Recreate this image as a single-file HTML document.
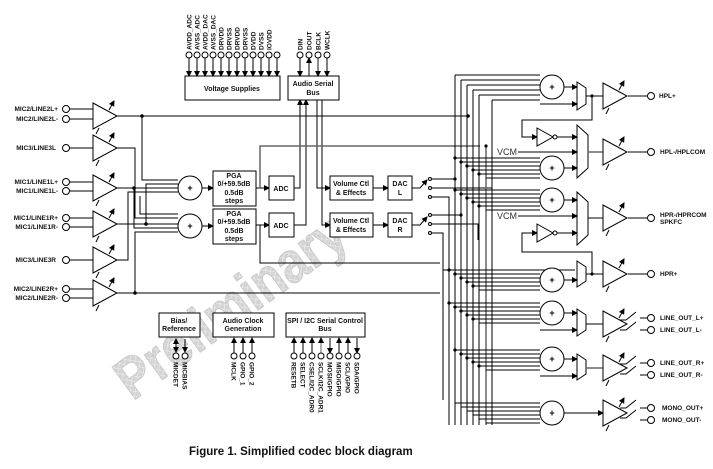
<!DOCTYPE html>
<html><head><meta charset="utf-8"><style>
html,body{margin:0;padding:0;background:#fff;}
svg{display:block;font-family:"Liberation Sans",sans-serif;}
.t{font-size:6.5px;font-weight:bold;fill:#111;}
.b{font-size:7px;font-weight:bold;fill:#111;}
</style></head><body>
<svg width="713" height="469" viewBox="0 0 713 469" xmlns="http://www.w3.org/2000/svg">
<defs>
<marker id="a" markerWidth="6" markerHeight="6" refX="5" refY="3" orient="auto" markerUnits="userSpaceOnUse"><path d="M0,0 L6,3 L0,6 z" fill="#000"/></marker>
<pattern id="h" width="5" height="5" patternUnits="userSpaceOnUse" patternTransform="rotate(45)"><rect width="5" height="5" fill="#d4d4d4"/><line x1="0" y1="0" x2="0" y2="5" stroke="#eee" stroke-width="1.2"/><line x1="0" y1="0" x2="5" y2="0" stroke="#eee" stroke-width="1.2"/></pattern>
<g id="amp"><polygon points="0,-13 24,0 0,13" fill="#fff" stroke="#000" stroke-width="1"/><line x1="3" y1="18" x2="6" y2="12" stroke="#000"/><line x1="16" y1="-6" x2="21" y2="-15" stroke="#000" marker-end="url(#a)"/></g>
<g id="sum"><circle r="12" fill="#fff" stroke="#000"/><text y="3" text-anchor="middle" font-size="9" font-weight="bold">+</text></g>
<g id="inv"><polygon points="0,-9 16,0 0,9" fill="#fff" stroke="#000"/><circle cx="18" r="2" fill="#fff" stroke="#000"/></g>
</defs>

<!-- watermark -->
<text x="0" y="0" transform="translate(242,322) rotate(-36)" text-anchor="middle" font-size="58" font-weight="bold" fill="url(#h)" stroke="#c4c4c4" stroke-width="0.8" textLength="270" lengthAdjust="spacingAndGlyphs">Preliminary</text>

<g stroke="#000" stroke-width="1" fill="none">
<line x1="70" y1="109" x2="93" y2="109"/><line x1="70" y1="119" x2="93" y2="119"/>
<line x1="70" y1="148" x2="93" y2="148"/>
<line x1="70" y1="182" x2="93" y2="182"/><line x1="70" y1="191" x2="93" y2="191"/>
<line x1="70" y1="218" x2="93" y2="218"/><line x1="70" y1="227" x2="93" y2="227"/>
<line x1="70" y1="260" x2="93" y2="260"/>
<line x1="70" y1="289" x2="93" y2="289"/><line x1="70" y1="298" x2="93" y2="298"/>
</g>
<g fill="#fff" stroke="#000">
<circle cx="66" cy="109" r="3.5"/><circle cx="66" cy="119" r="3.5"/><circle cx="66" cy="148" r="3.5"/>
<circle cx="66" cy="182" r="3.5"/><circle cx="66" cy="191" r="3.5"/><circle cx="66" cy="218" r="3.5"/>
<circle cx="66" cy="227" r="3.5"/><circle cx="66" cy="260" r="3.5"/><circle cx="66" cy="289" r="3.5"/><circle cx="66" cy="298" r="3.5"/>
</g>
<g class="t" text-anchor="end">
<text x="58" y="111">MIC2/LINE2L+</text><text x="58" y="121">MIC2/LINE2L-</text>
<text x="56" y="150">MIC3/LINE3L</text>
<text x="58" y="184">MIC1/LINE1L+</text><text x="58" y="193">MIC1/LINE1L-</text>
<text x="58" y="220">MIC1/LINE1R+</text><text x="58" y="229">MIC1/LINE1R-</text>
<text x="56" y="262">MIC3/LINE3R</text>
<text x="58" y="291">MIC2/LINE2R+</text><text x="58" y="300">MIC2/LINE2R-</text>
</g>

<g stroke="#000" fill="none">
<polyline points="117,116 468,116"/>
<polyline points="142,116 142,180 178,180"/>
<polyline points="117,148 135,148 135,218 178,218"/>
<polyline points="117,188 178,188"/>
<polyline points="134,188 134,228 178,228"/>
<polyline points="117,224 178,224"/>
<polyline points="146,224 146,184 178,184"/>
<polyline points="117,260 128,260 128,192 178,192"/>
<polyline points="117,293 440,293"/>
<polyline points="135,293 135,232 178,232"/>
<polyline points="140,196 140,214 178,214"/>
</g>
<g fill="#000">
<circle cx="142" cy="116" r="1.8"/><circle cx="134" cy="188" r="1.8"/><circle cx="146" cy="224" r="1.8"/><circle cx="135" cy="293" r="1.8"/><circle cx="468" cy="116" r="1.8"/>
</g>
<use href="#amp" x="93" y="116"/><use href="#amp" x="93" y="148"/><use href="#amp" x="93" y="188"/>
<use href="#amp" x="93" y="224"/><use href="#amp" x="93" y="260"/><use href="#amp" x="93" y="293"/>

<use href="#sum" x="190" y="188"/><use href="#sum" x="190" y="226"/>

<g stroke="#000" fill="none">
<line x1="202" y1="188" x2="213" y2="188" marker-end="url(#a)"/>
<line x1="202" y1="226" x2="213" y2="226" marker-end="url(#a)"/>
<line x1="256" y1="188" x2="269" y2="188" marker-end="url(#a)"/>
<line x1="256" y1="225" x2="269" y2="225" marker-end="url(#a)"/>
<polyline points="294,188 300,188 300,100" marker-end="url(#a)"/>
<polyline points="294,225 306,225 306,100" marker-end="url(#a)"/>
<polyline points="317,100 317,188 330,188" marker-end="url(#a)"/>
<polyline points="322,100 322,225 330,225" marker-end="url(#a)"/>
<line x1="373" y1="188" x2="388" y2="188" marker-end="url(#a)"/>
<line x1="373" y1="225" x2="388" y2="225" marker-end="url(#a)"/>
<polyline points="260,188 260,146 480,146" stroke="#666" stroke-width="1.5"/>
<polyline points="260,225 260,263 440,263"/>
<polyline points="412,188 420,188 427,180" marker-end="url(#a)"/>
<polyline points="412,225 420,225 427,217" marker-end="url(#a)"/>
</g>
<g fill="#fff" stroke="#000" stroke-width="1">
<rect x="213" y="171" width="43" height="35"/><rect x="213" y="209" width="43" height="35"/>
<rect x="269" y="176" width="25" height="24"/><rect x="269" y="213" width="25" height="24"/>
<rect x="330" y="176" width="43" height="24"/><rect x="330" y="213" width="43" height="24"/>
<rect x="388" y="176" width="24" height="24"/><rect x="388" y="213" width="24" height="24"/>
<rect x="185" y="76" width="95" height="24"/><rect x="288" y="76" width="51" height="24"/>
<rect x="159" y="313" width="41" height="24"/><rect x="213" y="313" width="61" height="24"/><rect x="286" y="313" width="79" height="24"/>
</g>
<g class="b" text-anchor="middle">
<text x="234" y="178">PGA</text><text x="234" y="186">0/+59.5dB</text><text x="234" y="195">0.5dB</text><text x="234" y="203">steps</text>
<text x="234" y="216">PGA</text><text x="234" y="224">0/+59.5dB</text><text x="234" y="233">0.5dB</text><text x="234" y="241">steps</text>
<text x="281" y="191">ADC</text><text x="281" y="228">ADC</text>
<text x="351" y="186">Volume Ctl</text><text x="351" y="195">&amp; Effects</text>
<text x="351" y="223">Volume Ctl</text><text x="351" y="232">&amp; Effects</text>
<text x="400" y="186">DAC</text><text x="400" y="195">L</text>
<text x="400" y="223">DAC</text><text x="400" y="232">R</text>
<text x="232" y="91">Voltage Supplies</text>
<text x="313" y="86">Audio Serial</text><text x="313" y="95">Bus</text>
<text x="179" y="323">Bias/</text><text x="179" y="331">Reference</text>
<text x="243" y="323">Audio Clock</text><text x="243" y="331">Generation</text>
<text x="325" y="323">SPI / I2C Serial Control</text><text x="325" y="331">Bus</text>
</g>

<g stroke="#000" fill="none">
<line x1="189" y1="58" x2="189" y2="76" marker-end="url(#a)"/><line x1="197" y1="58" x2="197" y2="76" marker-end="url(#a)"/>
<line x1="205" y1="58" x2="205" y2="76" marker-end="url(#a)"/><line x1="213" y1="58" x2="213" y2="76" marker-end="url(#a)"/>
<line x1="221" y1="58" x2="221" y2="76" marker-end="url(#a)"/><line x1="229" y1="58" x2="229" y2="76" marker-end="url(#a)"/>
<line x1="237" y1="58" x2="237" y2="76" marker-end="url(#a)"/><line x1="245" y1="58" x2="245" y2="76" marker-end="url(#a)"/>
<line x1="253" y1="58" x2="253" y2="76" marker-end="url(#a)"/><line x1="261" y1="58" x2="261" y2="76" marker-end="url(#a)"/>
<line x1="269" y1="58" x2="269" y2="76" marker-end="url(#a)"/><line x1="277" y1="58" x2="277" y2="76" marker-end="url(#a)"/>
<line x1="300" y1="58" x2="300" y2="76" marker-end="url(#a)"/><line x1="309" y1="76" x2="309" y2="58" marker-end="url(#a)"/>
<line x1="318" y1="58" x2="318" y2="76" marker-end="url(#a)" stroke="#666" stroke-width="1.5"/><line x1="327" y1="58" x2="327" y2="76" marker-end="url(#a)"/>
</g>
<g fill="#fff" stroke="#000">
<circle cx="189" cy="55" r="3"/><circle cx="197" cy="55" r="3"/><circle cx="205" cy="55" r="3"/><circle cx="213" cy="55" r="3"/>
<circle cx="221" cy="55" r="3"/><circle cx="229" cy="55" r="3"/><circle cx="237" cy="55" r="3"/><circle cx="245" cy="55" r="3"/>
<circle cx="253" cy="55" r="3"/><circle cx="261" cy="55" r="3"/><circle cx="269" cy="55" r="3"/><circle cx="277" cy="55" r="3"/>
<circle cx="300" cy="55" r="3"/><circle cx="309" cy="55" r="3"/><circle cx="318" cy="55" r="3"/><circle cx="327" cy="55" r="3"/>
</g>
<g class="t">
<text transform="translate(191.5,50) rotate(-90)">AVDD_ADC</text><text transform="translate(199.5,50) rotate(-90)">AVSS_ADC</text>
<text transform="translate(207.5,50) rotate(-90)">AVDD_DAC</text><text transform="translate(215.5,50) rotate(-90)">AVSS_DAC</text>
<text transform="translate(223.5,50) rotate(-90)">DRVDD</text><text transform="translate(231.5,50) rotate(-90)">DRVSS</text>
<text transform="translate(239.5,50) rotate(-90)">DRVDD</text><text transform="translate(247.5,50) rotate(-90)">DRVSS</text>
<text transform="translate(255.5,50) rotate(-90)">DVDD</text><text transform="translate(263.5,50) rotate(-90)">DVSS</text>
<text transform="translate(271.5,50) rotate(-90)">IOVDD</text>
<text transform="translate(302.5,50) rotate(-90)">DIN</text><text transform="translate(311.5,50) rotate(-90)">DOUT</text>
<text transform="translate(320.5,50) rotate(-90)">BCLK</text><text transform="translate(329.5,50) rotate(-90)">WCLK</text>
</g>

<g stroke="#000" fill="none">
<line x1="176" y1="346" x2="176" y2="339" marker-end="url(#a)"/><line x1="176" y1="339" x2="176" y2="352" marker-end="url(#a)"/>
<line x1="185" y1="339" x2="185" y2="352" marker-end="url(#a)"/>
<line x1="234" y1="353" x2="234" y2="338" marker-end="url(#a)"/><line x1="243" y1="353" x2="243" y2="338" marker-end="url(#a)"/><line x1="252" y1="353" x2="252" y2="338" marker-end="url(#a)"/>
<line x1="294" y1="353" x2="294" y2="338" marker-end="url(#a)"/><line x1="303" y1="353" x2="303" y2="338" marker-end="url(#a)"/>
<line x1="312" y1="353" x2="312" y2="338" marker-end="url(#a)"/><line x1="321" y1="353" x2="321" y2="338" marker-end="url(#a)" stroke="#666"/>
<line x1="330" y1="338" x2="330" y2="353" marker-end="url(#a)"/><line x1="339" y1="353" x2="339" y2="338" marker-end="url(#a)"/>
<line x1="348" y1="353" x2="348" y2="338" marker-end="url(#a)"/><line x1="357" y1="338" x2="357" y2="353" marker-end="url(#a)"/>
</g>
<g fill="#fff" stroke="#000">
<circle cx="176" cy="356" r="3"/><circle cx="185" cy="356" r="3"/>
<circle cx="234" cy="356" r="3"/><circle cx="243" cy="356" r="3"/><circle cx="252" cy="356" r="3"/>
<circle cx="294" cy="356" r="3"/><circle cx="303" cy="356" r="3"/><circle cx="312" cy="356" r="3"/><circle cx="321" cy="356" r="3"/>
<circle cx="330" cy="356" r="3"/><circle cx="339" cy="356" r="3"/><circle cx="348" cy="356" r="3"/><circle cx="357" cy="356" r="3"/>
</g>
<g class="t">
<text transform="translate(173.5,362) rotate(90)">MICDET</text><text transform="translate(182.5,362) rotate(90)">MICBIAS</text>
<text transform="translate(231.5,362) rotate(90)">MCLK</text><text transform="translate(240.5,362) rotate(90)">GPIO_1</text><text transform="translate(249.5,362) rotate(90)">GPIO_2</text>
<text transform="translate(291.5,362) rotate(90)">RESETB</text><text transform="translate(300.5,362) rotate(90)">SELECT</text>
<text transform="translate(309.5,362) rotate(90)">CSEL/I2C_ADR0</text><text transform="translate(318.5,362) rotate(90)">SCLK/I2C_ADR1</text>
<text transform="translate(327.5,362) rotate(90)">MOSI/GPIO</text><text transform="translate(336.5,362) rotate(90)">MISO/GPIO</text>
<text transform="translate(345.5,362) rotate(90)">SCL/GPIO</text><text transform="translate(354.5,362) rotate(90)">SDA/GPIO</text>
</g>

<g stroke="#000" fill="none">
<line x1="432" y1="179" x2="455" y2="179"/><line x1="432" y1="188" x2="492" y2="188"/><polyline points="432,197 449,197 449,425"/>
<line x1="432" y1="215" x2="461" y2="215"/><polyline points="432,224 478,224 478,240"/><polyline points="432,233 443,233 443,400"/>
</g>
<g fill="#fff" stroke="#000"><circle cx="430" cy="179" r="1.5"/><circle cx="430" cy="188" r="1.5"/><circle cx="430" cy="197" r="1.5"/>
<circle cx="430" cy="215" r="1.5"/><circle cx="430" cy="224" r="1.5"/><circle cx="430" cy="233" r="1.5"/></g>

<g stroke="#000" fill="none">
<line x1="455" y1="75" x2="455" y2="425"/><line x1="461" y1="80" x2="461" y2="425"/>
<line x1="467" y1="85" x2="467" y2="425"/><line x1="473" y1="90" x2="473" y2="425"/>
<line x1="479" y1="95" x2="479" y2="425"/><line x1="486" y1="146" x2="486" y2="425" stroke="#666" stroke-width="1.5"/>
<line x1="492" y1="100" x2="492" y2="425"/>
<polyline points="443,400 443,270 575,270"/>
</g>
<g stroke="#000" fill="none">
<polyline points="455,75 540,75"/><polyline points="461,80 540,80"/><polyline points="467,85 540,85"/><polyline points="473,90 540,90"/><polyline points="479,95 540,95"/><polyline points="492,100 540,100"/>
<line x1="455" y1="158" x2="540" y2="158"/><line x1="461" y1="162" x2="540" y2="162"/><line x1="467" y1="166" x2="540" y2="166"/><line x1="473" y1="170" x2="540" y2="170"/><line x1="479" y1="174" x2="540" y2="174"/><line x1="486" y1="178" x2="540" y2="178"/>
<line x1="455" y1="190" x2="540" y2="190"/><line x1="461" y1="194" x2="540" y2="194"/><line x1="467" y1="198" x2="540" y2="198"/><line x1="473" y1="202" x2="540" y2="202"/><line x1="479" y1="206" x2="540" y2="206"/><line x1="486" y1="210" x2="540" y2="210"/>
<line x1="449" y1="270" x2="540" y2="270"/><line x1="455" y1="274" x2="540" y2="274"/><line x1="461" y1="278" x2="540" y2="278"/><line x1="467" y1="282" x2="540" y2="282"/><line x1="473" y1="286" x2="540" y2="286"/><line x1="479" y1="290" x2="540" y2="290"/>
<line x1="449" y1="303" x2="540" y2="303"/><line x1="455" y1="307" x2="540" y2="307"/><line x1="461" y1="311" x2="540" y2="311"/><line x1="467" y1="315" x2="540" y2="315"/><line x1="473" y1="319" x2="540" y2="319"/><line x1="479" y1="323" x2="540" y2="323"/>
<line x1="455" y1="350" x2="540" y2="350"/><line x1="461" y1="354" x2="540" y2="354"/><line x1="467" y1="358" x2="540" y2="358"/><line x1="473" y1="362" x2="540" y2="362"/><line x1="479" y1="366" x2="540" y2="366"/><line x1="486" y1="370" x2="540" y2="370"/>
<line x1="455" y1="403" x2="540" y2="403"/><line x1="461" y1="407" x2="540" y2="407"/><line x1="467" y1="411" x2="540" y2="411"/><line x1="473" y1="415" x2="540" y2="415"/><line x1="479" y1="419" x2="540" y2="419"/><line x1="486" y1="423" x2="540" y2="423"/>
</g>
<g fill="#000">
<circle cx="455" cy="158" r="1.6"/><circle cx="461" cy="162" r="1.6"/><circle cx="467" cy="166" r="1.6"/><circle cx="473" cy="170" r="1.6"/><circle cx="479" cy="174" r="1.6"/>
<circle cx="455" cy="190" r="1.6"/><circle cx="461" cy="194" r="1.6"/><circle cx="467" cy="198" r="1.6"/><circle cx="473" cy="202" r="1.6"/><circle cx="479" cy="206" r="1.6"/>
<circle cx="449" cy="270" r="1.6"/><circle cx="455" cy="274" r="1.6"/><circle cx="461" cy="278" r="1.6"/><circle cx="467" cy="282" r="1.6"/><circle cx="473" cy="286" r="1.6"/>
<circle cx="449" cy="303" r="1.6"/><circle cx="455" cy="307" r="1.6"/><circle cx="461" cy="311" r="1.6"/><circle cx="467" cy="315" r="1.6"/><circle cx="473" cy="319" r="1.6"/>
<circle cx="455" cy="350" r="1.6"/><circle cx="461" cy="354" r="1.6"/><circle cx="467" cy="358" r="1.6"/><circle cx="473" cy="362" r="1.6"/><circle cx="479" cy="366" r="1.6"/>
<circle cx="455" cy="179" r="1.6"/><circle cx="461" cy="215" r="1.6"/><circle cx="486" cy="146" r="1.6"/>
</g>
<use href="#sum" x="552" y="87"/><use href="#sum" x="552" y="168"/><use href="#sum" x="552" y="200"/>
<use href="#sum" x="552" y="280"/><use href="#sum" x="552" y="313"/><use href="#sum" x="552" y="359"/><use href="#sum" x="552" y="413"/>

<g fill="#fff" stroke="#000">
<polygon points="577,82 586,88 586,104 577,110"/>
<polygon points="577,125 588,135 588,168 577,178"/>
<polygon points="577,192 588,202 588,235 577,245"/>
<polygon points="577,261 586,267 586,281 577,287"/>
<polygon points="577,309 586,315 586,330 577,336"/>
<polygon points="577,354 586,360 586,374 577,380"/>
</g>
<g stroke="#000" fill="none">
<line x1="564" y1="87" x2="577" y2="87" marker-end="url(#a)"/><line x1="540" y1="104" x2="577" y2="104" marker-end="url(#a)"/>
<line x1="564" y1="168" x2="577" y2="168" marker-end="url(#a)"/>
<line x1="564" y1="200" x2="577" y2="200" marker-end="url(#a)"/>
<line x1="564" y1="280" x2="577" y2="280" marker-end="url(#a)"/>
<line x1="564" y1="313" x2="577" y2="313" marker-end="url(#a)"/><line x1="540" y1="330" x2="577" y2="330" marker-end="url(#a)"/>
<line x1="564" y1="359" x2="577" y2="359" marker-end="url(#a)"/><line x1="540" y1="376" x2="577" y2="376" marker-end="url(#a)"/>
<line x1="564" y1="413" x2="603" y2="413" marker-end="url(#a)"/>
<line x1="518" y1="152" x2="577" y2="152" marker-end="url(#a)"/>
<line x1="518" y1="216" x2="577" y2="216" marker-end="url(#a)"/>
<polyline points="592,96 592,120 522,120 522,137 537,137" marker-end="url(#a)"/>
<line x1="557" y1="137" x2="577" y2="137" marker-end="url(#a)"/>
<polyline points="592,274 592,252 522,252 522,233 537,233" marker-end="url(#a)"/>
<line x1="557" y1="233" x2="577" y2="233" marker-end="url(#a)"/>
<line x1="586" y1="96" x2="603" y2="96"/><line x1="588" y1="152" x2="603" y2="152" stroke="#666" stroke-width="1.5"/>
<line x1="588" y1="218" x2="603" y2="218"/><line x1="586" y1="274" x2="603" y2="274"/>
<line x1="586" y1="324" x2="603" y2="324"/><line x1="586" y1="368" x2="603" y2="368" stroke="#666" stroke-width="1.5"/>
<line x1="628" y1="96" x2="647" y2="96"/><line x1="628" y1="152" x2="647" y2="152"/>
<line x1="628" y1="218" x2="647" y2="218"/><line x1="628" y1="274" x2="647" y2="274"/>
<polyline points="620,320 626,320 636,312"/><line x1="640" y1="318" x2="647" y2="318"/>
<polyline points="620,330 626,330 636,322"/><line x1="640" y1="330" x2="647" y2="330"/>
<polyline points="620,364 626,364 636,356"/><line x1="640" y1="363" x2="647" y2="363"/>
<polyline points="620,374 626,374 636,366"/><line x1="640" y1="375" x2="647" y2="375"/>
<polyline points="620,408 626,408 636,400"/><line x1="640" y1="408" x2="647" y2="408"/>
<polyline points="620,418 626,418 636,410"/><line x1="640" y1="420" x2="647" y2="420"/>
</g>
<circle cx="592" cy="96" r="1.6" fill="#000"/><circle cx="592" cy="274" r="1.6" fill="#000"/>
<use href="#inv" x="537" y="137"/><use href="#inv" x="537" y="233"/>
<rect x="496" y="147" width="21" height="10" fill="#fff"/><rect x="496" y="211" width="21" height="10" fill="#fff"/>
<text x="497" y="155" font-size="9" fill="#333">VCM</text>
<text x="497" y="219" font-size="9" fill="#333">VCM</text>
<use href="#amp" x="603" y="96"/><use href="#amp" x="603" y="152"/><use href="#amp" x="603" y="218"/>
<use href="#amp" x="603" y="274"/><use href="#amp" x="603" y="324"/><use href="#amp" x="603" y="368"/><use href="#amp" x="603" y="413"/>
<g fill="#fff" stroke="#000">
<circle cx="651" cy="96" r="3.5"/><circle cx="651" cy="152" r="3.5"/><circle cx="651" cy="218" r="3.5"/><circle cx="651" cy="274" r="3.5"/>
<circle cx="651" cy="318" r="3.5"/><circle cx="651" cy="330" r="3.5"/><circle cx="651" cy="363" r="3.5"/><circle cx="651" cy="375" r="3.5"/>
<circle cx="651" cy="408" r="3.5"/><circle cx="651" cy="420" r="3.5"/>
</g>
<g class="t" font-size="5.5">
<text x="659" y="98">HPL+</text><text x="660" y="154">HPL-/HPLCOM</text>
<text x="660" y="217">HPR-/HPRCOM</text><text x="660" y="224">SPKFC</text>
<text x="660" y="276">HPR+</text>
<text x="660" y="320">LINE_OUT_L+</text><text x="660" y="332">LINE_OUT_L-</text>
<text x="660" y="365">LINE_OUT_R+</text><text x="660" y="377">LINE_OUT_R-</text>
<text x="662" y="410">MONO_OUT+</text><text x="662" y="422">MONO_OUT-</text>
</g>

<text x="189" y="455" font-size="11.5" font-weight="bold" fill="#111">Figure 1.  Simplified codec block diagram</text>
</svg>
</body></html>
